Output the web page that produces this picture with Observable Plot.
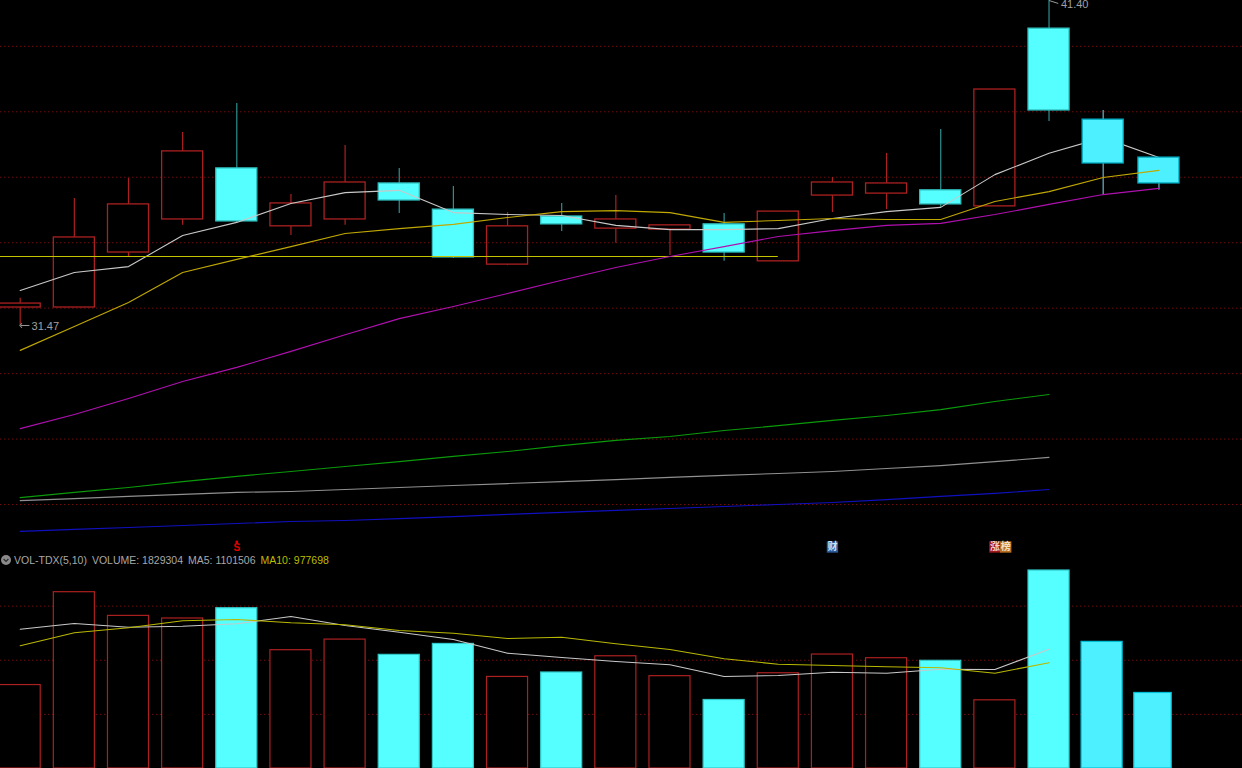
<!DOCTYPE html>
<html>
<head>
<meta charset="utf-8">
<script src="https://cdn.jsdelivr.net/npm/d3@7"></script>
<script src="https://cdn.jsdelivr.net/npm/@observablehq/plot@0.6"></script>
<style>
html,body{margin:0;padding:0;background:#000;overflow:hidden}
#wrap{position:relative;width:1242px;height:768px;background:#000}
#wrap svg{display:block}
#legend{position:absolute;left:1px;top:553px;height:14px;font:10.5px/14px "Liberation Sans",Arial,sans-serif;color:#a8a8a8;white-space:pre;display:flex;align-items:center}
#legend svg{margin-right:3px}
#legend span{margin-right:5px}
#legend .y{color:#bcbc00}
</style>
</head>
<body>
<div id="wrap"><div id="top"></div><div id="bot"></div>
<div id="legend"><svg width="10" height="10" viewBox="0 0 10 10"><circle cx="5" cy="5" r="5" fill="#8a8a8a"/><path d="M2.6 4 L5 6.4 L7.4 4" fill="none" stroke="#2a2a2a" stroke-width="1.2"/></svg><span>VOL-TDX(5,10)</span><span>VOLUME: 1829304</span><span>MA5: 1101506</span><span class="y">MA10: 977698</span></div></div>
<script>
const candleSlots=[0,1,2,3,4,5,6,7,8,9,10,11,12,13,14,15,16,17,18,19,20,21.03];
const volumeSlots=[0,1,2,3,4,5,6,7,8,9,10,11,12,13,14,15,16,17,18,19,19.98,20.92];
const open =[32.02,32.02,33.70,34.71,36.27,34.50,34.71,35.81,35.01,33.33,34.80,34.43,34.40,34.56,33.43,35.44,35.50,35.60,35.11,40.54,37.76,36.60];
const close=[32.14,34.16,35.17,36.79,34.65,35.20,35.84,35.29,33.55,34.50,34.56,34.71,34.53,33.70,34.95,35.84,35.81,35.17,38.68,38.04,36.42,35.81];
const high =[32.30,35.35,35.96,37.37,38.25,35.47,36.97,36.27,35.72,34.92,35.20,35.44,34.53,34.89,34.95,35.99,36.73,37.46,38.68,41.40,38.04,36.60];
const low  =[31.47,32.02,33.55,34.53,34.62,34.22,34.53,34.89,33.52,33.30,34.34,33.98,33.61,33.43,33.43,34.92,35.01,35.08,35.11,37.70,35.47,35.60];
const ma5  =[32.54,33.09,33.27,34.22,34.62,35.20,35.53,35.60,34.92,34.86,34.83,34.53,34.40,34.40,34.43,34.74,34.95,35.08,36.08,36.73,37.21,36.60];
const ma10 =[30.71,31.44,32.17,33.09,33.49,33.88,34.28,34.43,34.56,34.77,34.95,34.98,34.92,34.62,34.68,34.74,34.71,34.71,35.26,35.56,35.99,36.21];
const ma20 =[28.32,28.75,29.24,29.76,30.19,30.68,31.19,31.68,32.05,32.45,32.85,33.24,33.58,33.88,34.19,34.37,34.53,34.59,34.86,35.17,35.47,35.66];
const maGreen=[26.21,26.37,26.52,26.70,26.86,27.01,27.16,27.31,27.47,27.62,27.80,27.96,28.08,28.26,28.41,28.57,28.72,28.90,29.15,29.36];
const maGray =[26.12,26.18,26.25,26.31,26.37,26.40,26.46,26.52,26.58,26.64,26.70,26.76,26.83,26.89,26.95,27.01,27.10,27.19,27.31,27.44];
const maBlue =[25.18,25.24,25.30,25.36,25.42,25.48,25.51,25.57,25.63,25.70,25.76,25.82,25.88,25.94,26.00,26.06,26.15,26.25,26.34,26.46];
const flatLevel=33.58;
const priceTicks=[26,28,30,32,34,36,38,40];
const volume=[771000,1629000,1410000,1386000,1481000,1093000,1191000,1050000,1151000,846000,887000,1037000,853000,633000,880000,1053000,1019000,995000,630000,1829304,1170000,698000];
const volMa5 =[1287000,1339700,1305500,1314700,1336900,1404300,1321200,1259300,1191800,1065300,1025500,988600,958100,850000,859200,889700,880500,917400,914700,1101506];
const volMa10=[1133600,1253700,1299900,1364600,1376600,1346100,1327600,1275000,1250000,1201100,1213100,1152100,1099400,1013500,963600,951600,939600,930400,880500,977698];
const volTicks=[500000,1000000,1500000];
const lowMark=[{slot:0,price:31.47,label:"31.47"}];
const highMark=[{slot:19,price:41.40,label:"41.40"}];
const badges=[{slot:15,text:"财",bg:"#2a5a9a",fg:"#cfe0f0"},{slot:18,text:"涨",bg:"#a01818",fg:"#f0d0d0"},{slot:18.2,text:"榜",bg:"#b87020",fg:"#f5e0c0"}];
const signal=[{slot:4,text:"S"}];

const W=1242, H1=553, H2=215;
const halfW=0.379;
const xDomain=[-0.3638,22.573];
const priceDomain=[41.4-553*0.030554,41.4];
const volDomain=[0,215*9239];
const red="#ab2020", cyan="#55ffff", cyanLast="#4df0ff";
const badgePrice=41.4-546.5*0.030554;

const idx=d3.range(22);
const candles=idx.map(i=>({i,slot:candleSlots[i],open:open[i],close:close[i],high:high[i],low:low[i],up:close[i]>open[i],late:i>=20,top:Math.max(open[i],close[i]),bot:Math.min(open[i],close[i])}));
const earlyC=candles.filter(d=>!d.late), lateC=candles.filter(d=>d.late);
const wickColor=d=>d.up?red:(d.late?"#6fb4c4":"#2f8f8f");
const bodyFill=d=>d.up?"none":(d.late?cyanLast:cyan);
const bodyStroke=d=>d.up?red:(d.late?"#00aac0":"#30c0c0");
const candleMarks=data=>[
  Plot.ruleX(data,{x:"slot",y1:"top",y2:"high",stroke:wickColor,strokeWidth:1.2}),
  Plot.ruleX(data,{x:"slot",y1:"low",y2:"bot",stroke:wickColor,strokeWidth:1.2}),
  Plot.rect(data,{x1:d=>d.slot-halfW,x2:d=>d.slot+halfW,y1:"open",y2:"close",fill:bodyFill,stroke:bodyStroke,strokeWidth:1.3})
];
const pts=arr=>arr.map((v,i)=>({slot:candleSlots[i],v}));
const line=(arr,stroke,w=1.1)=>Plot.line(pts(arr),{x:"slot",y:"v",stroke,strokeWidth:w,curve:"linear"});
const labelFont={fill:"#a0a0a0",fontSize:11,fontFamily:"Liberation Sans",textAnchor:"start"};

document.getElementById("top").append(Plot.plot({
  width:W,height:H1,margin:0,
  style:{background:"#000",overflow:"hidden"},
  x:{domain:xDomain,axis:null},
  y:{domain:priceDomain,axis:null},
  marks:[
    Plot.ruleY(priceTicks,{stroke:"#6e0f0f",strokeDasharray:"1.5,2.5",strokeWidth:1}),
    candleMarks(earlyC),
    line(ma5,"#c8c8c8"),
    candleMarks(lateC),
    Plot.ruleY([flatLevel],{x1:xDomain[0],x2:14,stroke:"#c4c400",strokeWidth:1.1}),
    line(ma10,"#c0a800"),
    line(ma20,"#b010b0"),
    line(maGreen,"#0a9a0a"),
    line(maGray,"#909090"),
    line(maBlue,"#1010c0"),
    Plot.link(lowMark,{x1:d=>d.slot+0.17,y1:"price",x2:d=>d.slot+0.01,y2:"price",stroke:"#999",strokeWidth:1,markerEnd:"arrow"}),
    Plot.text(lowMark,{x:d=>d.slot+0.21,y:"price",dy:1,text:"label",...labelFont}),
    Plot.link(highMark,{x1:"slot",y1:"price",x2:d=>d.slot+0.17,y2:d=>d.price-0.09,stroke:"#999",strokeWidth:1}),
    Plot.text(highMark,{x:d=>d.slot+0.22,y:"price",dy:4,text:"label",...labelFont}),
    Plot.dot(badges,{x:"slot",y:()=>badgePrice,symbol:"square",r:6.4,fill:d=>d.bg}),
    Plot.text(badges,{x:"slot",y:()=>badgePrice,text:"text",fill:d=>d.fg,fontSize:10,fontWeight:"bold",fontFamily:"Noto Sans CJK SC"}),
    Plot.text(signal,{x:"slot",y:()=>badgePrice,dy:1,text:"text",fill:"#e00000",fontSize:10,fontWeight:"bold",fontFamily:"Liberation Sans"}),
    Plot.dot(signal,{x:"slot",y:()=>badgePrice,dy:-5,r:1.4,fill:"#e00000"}),
    Plot.frame({anchor:"bottom",stroke:"#a00000",strokeWidth:1.2})
  ]
}));

const bars=idx.map(i=>({slot:volumeSlots[i],v:volume[i],up:candles[i].up,late:i>=20,last:i===21}));
const vbars=Plot.rect(bars,{x1:d=>d.slot-(d.last?0.346:halfW),x2:d=>d.slot+(d.last?0.346:halfW),y1:0,y2:"v",fill:d=>d.up?"#000":(d.late?cyanLast:cyan),stroke:d=>d.up?red:(d.late?"#00c0d8":"#30c8c8"),strokeWidth:1.2});
document.getElementById("bot").append(Plot.plot({
  width:W,height:H2,margin:0,
  style:{background:"#000",overflow:"hidden"},
  x:{domain:xDomain,axis:null},
  y:{domain:volDomain,axis:null},
  marks:[
    Plot.ruleY(volTicks,{stroke:"#6e0f0f",strokeDasharray:"1.5,2.5",strokeWidth:1}),
    vbars,
    line(volMa5,"#c8c8c8"),
    line(volMa10,"#b8b800")
  ]
}));
</script>
</body>
</html>
